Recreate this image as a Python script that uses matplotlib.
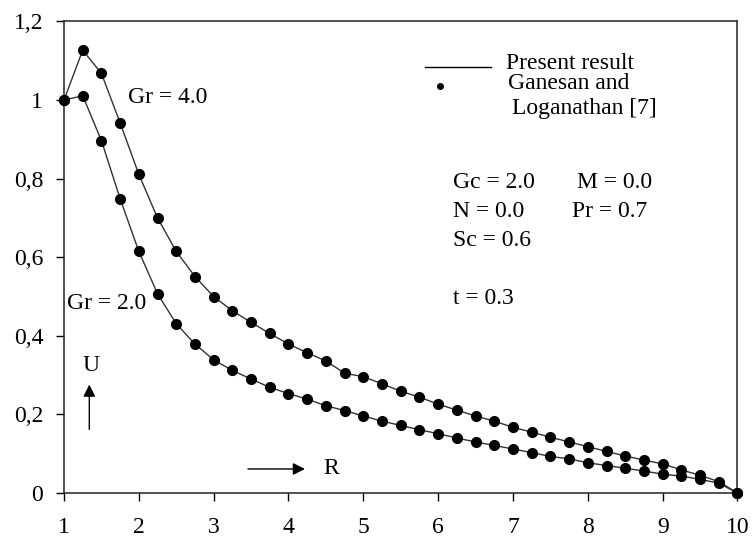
import numpy as np
import matplotlib
matplotlib.use('Agg')
import matplotlib.pyplot as plt

plt.rcParams['font.family'] = ['Liberation Serif', 'DejaVu Serif']

# %% data
R = [1.00, 1.25, 1.50, 1.75, 2.00, 2.25, 2.50, 2.75, 3.00, 3.25, 3.50, 3.75,
     4.00, 4.25, 4.50, 4.75, 5.00, 5.25, 5.50, 5.75, 6.00, 6.25, 6.50, 6.75,
     7.00, 7.25, 7.50, 7.75, 8.00, 8.25, 8.50, 8.75, 9.00, 9.25, 9.50, 9.75,
     10.0]

U_gr4 = [1.000, 1.127, 1.068, 0.942, 0.811, 0.700, 0.615, 0.551, 0.500, 0.464,
         0.434, 0.406, 0.379, 0.357, 0.336, 0.305, 0.296, 0.278, 0.259, 0.244,
         0.226, 0.211, 0.196, 0.183, 0.167, 0.155, 0.142, 0.130, 0.118, 0.106,
         0.094, 0.084, 0.074, 0.059, 0.045, 0.029, 0.000]

U_gr2 = [1.000, 1.011, 0.897, 0.749, 0.615, 0.507, 0.431, 0.379, 0.339, 0.312,
         0.290, 0.269, 0.253, 0.239, 0.222, 0.210, 0.196, 0.183, 0.172, 0.161,
         0.151, 0.140, 0.130, 0.121, 0.112, 0.103, 0.093, 0.087, 0.077, 0.070,
         0.063, 0.056, 0.048, 0.043, 0.035, 0.025, 0.000]

xticks = [1, 2, 3, 4, 5, 6, 7, 8, 9, 10]
yticks = [0, 0.2, 0.4, 0.6, 0.8, 1.0, 1.2]
ytick_labels = ['0', '0,2', '0,4', '0,6', '0,8', '1', '1,2']

params = [('Gc = 2.0', 0.577, 0.658), ('M = 0.0', 0.761, 0.658),
          ('N = 0.0', 0.577, 0.597), ('Pr = 0.7', 0.754, 0.597),
          ('Sc = 0.6', 0.577, 0.536), ('t = 0.3', 0.577, 0.413)]

FS = 17

# %% plot
fig = plt.figure(figsize=(7.52, 5.40), dpi=100)
ax = fig.add_axes([0.0851, 0.087, 0.8956, 0.8732])

for U in (U_gr4, U_gr2):
    ax.plot(R, U, color='#333333', lw=1.0)
    ax.plot(R, U, 'o', color='black', ms=7, mec='black', clip_on=False, zorder=3)

ax.set_xlim(1, 10)
ax.set_ylim(0, 1.2)
ax.set_xticks(xticks)
ax.set_xticklabels([str(t) for t in xticks])
ax.set_yticks(yticks)
ax.set_yticklabels(ytick_labels)
ax.tick_params(direction='out', length=6, width=1, labelsize=FS, color='black')
ax.tick_params(axis='y', pad=9)
ax.tick_params(axis='x', pad=11)
for s in ax.spines.values():
    s.set_linewidth(1.1)
    s.set_color('#222222')

tr = ax.transAxes
ax.text(0.095, 0.838, 'Gr = 4.0', transform=tr, fontsize=FS, va='center')
ax.text(0.005, 0.402, 'Gr = 2.0', transform=tr, fontsize=FS, va='center')

# U arrow
ax.text(0.040, 0.271, 'U', transform=tr, fontsize=FS, va='center', ha='center')
ax.annotate('', xy=(0.0376, 0.236), xytext=(0.0376, 0.129), xycoords=tr,
            textcoords=tr,
            arrowprops=dict(arrowstyle='-|>', color='black', lw=1, mutation_scale=18))
# R arrow
ax.annotate('', xy=(0.362, 0.051), xytext=(0.269, 0.051), xycoords=tr,
            textcoords=tr,
            arrowprops=dict(arrowstyle='-|>', color='black', lw=1, mutation_scale=18))
ax.text(0.385, 0.051, 'R', transform=tr, fontsize=FS, va='center')

# legend (hand made like the original)
ax.plot([0.536, 0.634], [0.904, 0.904], color='black', lw=1, transform=tr)
ax.plot([0.558], [0.863], 'o', color='black', ms=4, transform=tr)
ax.text(0.656, 0.911, 'Present result', transform=tr, fontsize=FS, va='center')
ax.text(0.660, 0.869, 'Ganesan and', transform=tr, fontsize=FS, va='center')
ax.text(0.665, 0.816, 'Loganathan [7]', transform=tr, fontsize=FS, va='center')

for txt, x, y in params:
    ax.text(x, y, txt, transform=tr, fontsize=FS, va='center')

fig.savefig('out.png', dpi=100)
